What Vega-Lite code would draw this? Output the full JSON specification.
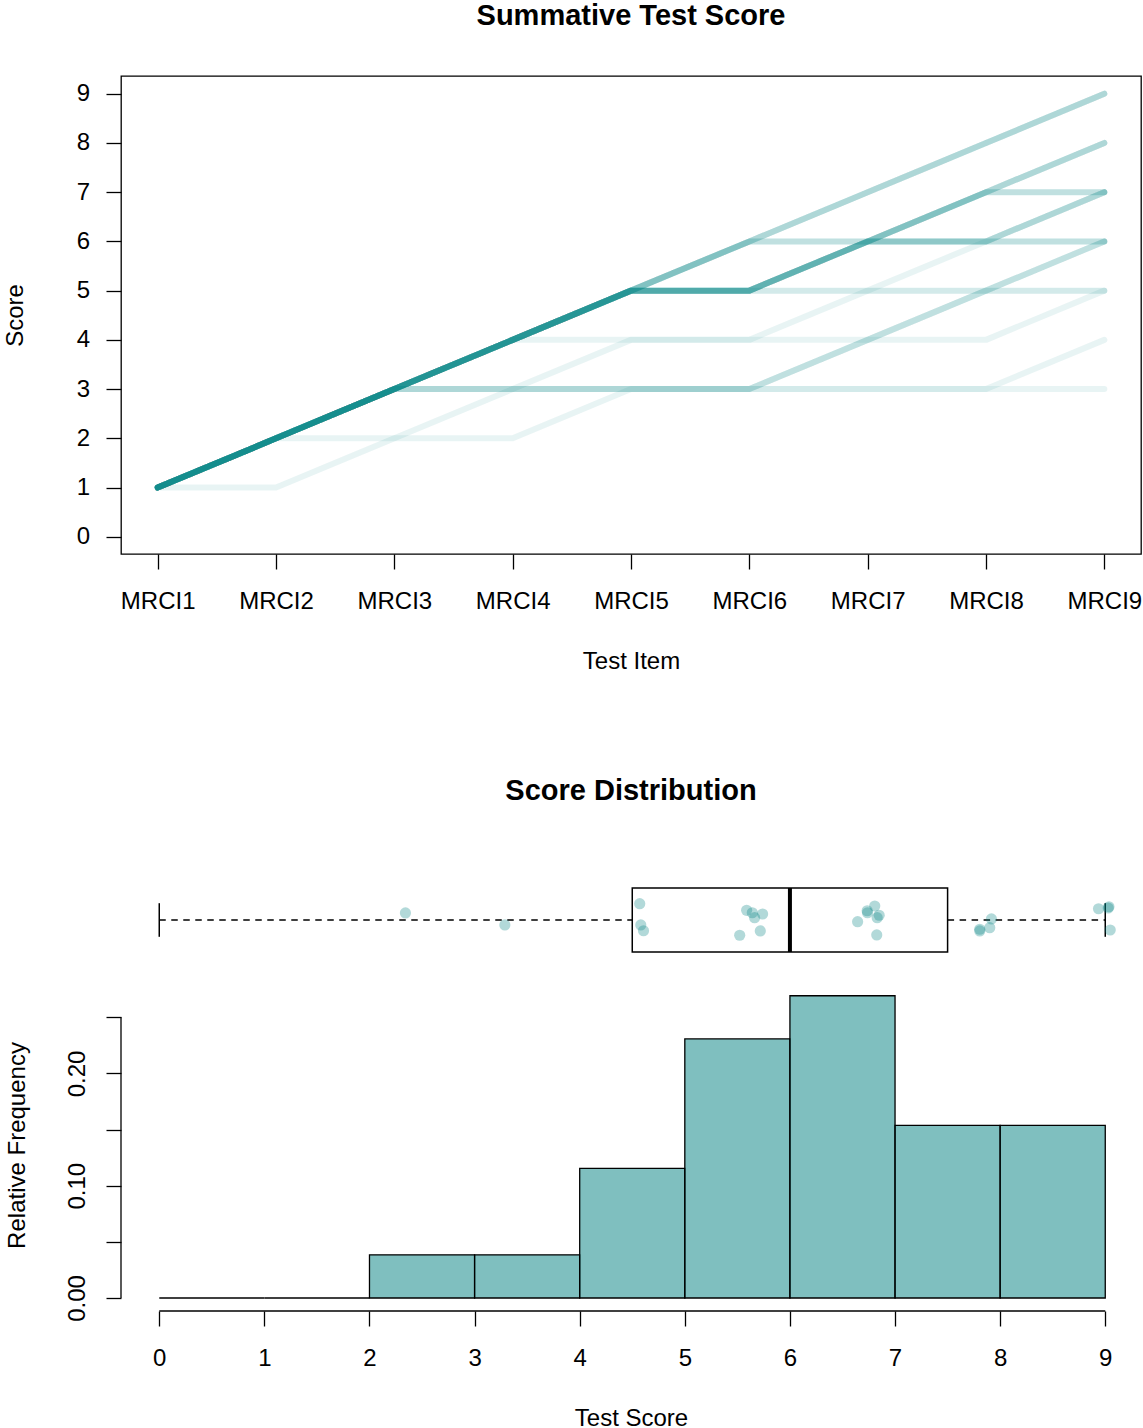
{
  "$schema": "https://vega.github.io/schema/vega-lite/v6.json",
  "padding": {"left": 2, "top": 0, "right": 0, "bottom": 0},
  "config": {
    "font": "Liberation Sans",
    "view": {"stroke": null},
    "axis": {"grid": false, "labelFont": "Liberation Sans", "titleFont": "Liberation Sans", "labelFontSize": 24, "titleFontSize": 24, "titleFontWeight": "normal", "labelColor": "black", "titleColor": "black", "tickColor": "black", "domainColor": "black", "tickWidth": 1.3, "domainWidth": 1.3, "tickSize": 15, "labelOverlap": false, "labelFlush": false},
    "title": {"font": "Liberation Sans", "fontSize": 29, "fontWeight": "bold", "color": "black", "anchor": "middle", "frame": "group", "baseline": "alphabetic"}
  },
  "bounds": "flush",
  "spacing": 323,
  "vconcat": [
    {
      "title": {"text": "Summative Test Score", "offset": 45.4},
      "width": 1020,
      "height": 478,
      "view": {"stroke": "black", "strokeWidth": 1.3},
      "data": {"values": [
        {"id": "R01", "MRCI1": 1, "MRCI2": 2, "MRCI3": 3, "MRCI4": 4, "MRCI5": 5, "MRCI6": 6, "MRCI7": 7, "MRCI8": 8, "MRCI9": 9},
        {"id": "R02", "MRCI1": 1, "MRCI2": 2, "MRCI3": 3, "MRCI4": 4, "MRCI5": 5, "MRCI6": 6, "MRCI7": 7, "MRCI8": 8, "MRCI9": 9},
        {"id": "R03", "MRCI1": 1, "MRCI2": 2, "MRCI3": 3, "MRCI4": 4, "MRCI5": 5, "MRCI6": 6, "MRCI7": 7, "MRCI8": 8, "MRCI9": 9},
        {"id": "R04", "MRCI1": 1, "MRCI2": 2, "MRCI3": 3, "MRCI4": 4, "MRCI5": 5, "MRCI6": 6, "MRCI7": 7, "MRCI8": 8, "MRCI9": 9},
        {"id": "R05", "MRCI1": 1, "MRCI2": 2, "MRCI3": 3, "MRCI4": 4, "MRCI5": 5, "MRCI6": 6, "MRCI7": 6, "MRCI8": 6, "MRCI9": 6},
        {"id": "R06", "MRCI1": 1, "MRCI2": 2, "MRCI3": 3, "MRCI4": 4, "MRCI5": 5, "MRCI6": 6, "MRCI7": 6, "MRCI8": 6, "MRCI9": 6},
        {"id": "R07", "MRCI1": 1, "MRCI2": 2, "MRCI3": 3, "MRCI4": 4, "MRCI5": 5, "MRCI6": 6, "MRCI7": 6, "MRCI8": 6, "MRCI9": 6},
        {"id": "R08", "MRCI1": 1, "MRCI2": 2, "MRCI3": 3, "MRCI4": 4, "MRCI5": 5, "MRCI6": 5, "MRCI7": 6, "MRCI8": 7, "MRCI9": 8},
        {"id": "R09", "MRCI1": 1, "MRCI2": 2, "MRCI3": 3, "MRCI4": 4, "MRCI5": 5, "MRCI6": 5, "MRCI7": 6, "MRCI8": 7, "MRCI9": 8},
        {"id": "R10", "MRCI1": 1, "MRCI2": 2, "MRCI3": 3, "MRCI4": 4, "MRCI5": 5, "MRCI6": 5, "MRCI7": 6, "MRCI8": 7, "MRCI9": 8},
        {"id": "R11", "MRCI1": 1, "MRCI2": 2, "MRCI3": 3, "MRCI4": 4, "MRCI5": 5, "MRCI6": 5, "MRCI7": 6, "MRCI8": 7, "MRCI9": 8},
        {"id": "R12", "MRCI1": 1, "MRCI2": 2, "MRCI3": 3, "MRCI4": 4, "MRCI5": 5, "MRCI6": 5, "MRCI7": 6, "MRCI8": 7, "MRCI9": 7},
        {"id": "R13", "MRCI1": 1, "MRCI2": 2, "MRCI3": 3, "MRCI4": 4, "MRCI5": 5, "MRCI6": 5, "MRCI7": 6, "MRCI8": 7, "MRCI9": 7},
        {"id": "R14", "MRCI1": 1, "MRCI2": 2, "MRCI3": 3, "MRCI4": 4, "MRCI5": 5, "MRCI6": 5, "MRCI7": 6, "MRCI8": 7, "MRCI9": 7},
        {"id": "R15", "MRCI1": 1, "MRCI2": 2, "MRCI3": 3, "MRCI4": 4, "MRCI5": 5, "MRCI6": 5, "MRCI7": 6, "MRCI8": 6, "MRCI9": 7},
        {"id": "R16", "MRCI1": 1, "MRCI2": 2, "MRCI3": 3, "MRCI4": 4, "MRCI5": 5, "MRCI6": 5, "MRCI7": 6, "MRCI8": 6, "MRCI9": 7},
        {"id": "R17", "MRCI1": 1, "MRCI2": 2, "MRCI3": 3, "MRCI4": 4, "MRCI5": 5, "MRCI6": 5, "MRCI7": 6, "MRCI8": 6, "MRCI9": 7},
        {"id": "R18", "MRCI1": 1, "MRCI2": 2, "MRCI3": 3, "MRCI4": 4, "MRCI5": 5, "MRCI6": 5, "MRCI7": 5, "MRCI8": 5, "MRCI9": 5},
        {"id": "R19", "MRCI1": 1, "MRCI2": 2, "MRCI3": 3, "MRCI4": 4, "MRCI5": 5, "MRCI6": 5, "MRCI7": 5, "MRCI8": 5, "MRCI9": 5},
        {"id": "R20", "MRCI1": 1, "MRCI2": 1, "MRCI3": 2, "MRCI4": 3, "MRCI5": 4, "MRCI6": 4, "MRCI7": 5, "MRCI8": 6, "MRCI9": 7},
        {"id": "R21", "MRCI1": 1, "MRCI2": 2, "MRCI3": 3, "MRCI4": 4, "MRCI5": 4, "MRCI6": 4, "MRCI7": 4, "MRCI8": 4, "MRCI9": 5},
        {"id": "R22", "MRCI1": 1, "MRCI2": 2, "MRCI3": 3, "MRCI4": 3, "MRCI5": 3, "MRCI6": 3, "MRCI7": 4, "MRCI8": 5, "MRCI9": 6},
        {"id": "R23", "MRCI1": 1, "MRCI2": 2, "MRCI3": 3, "MRCI4": 3, "MRCI5": 3, "MRCI6": 3, "MRCI7": 4, "MRCI8": 5, "MRCI9": 6},
        {"id": "R24", "MRCI1": 1, "MRCI2": 2, "MRCI3": 3, "MRCI4": 3, "MRCI5": 3, "MRCI6": 3, "MRCI7": 4, "MRCI8": 5, "MRCI9": 6},
        {"id": "R25", "MRCI1": 1, "MRCI2": 2, "MRCI3": 3, "MRCI4": 3, "MRCI5": 3, "MRCI6": 3, "MRCI7": 3, "MRCI8": 3, "MRCI9": 3},
        {"id": "R26", "MRCI1": 1, "MRCI2": 2, "MRCI3": 2, "MRCI4": 2, "MRCI5": 3, "MRCI6": 3, "MRCI7": 3, "MRCI8": 3, "MRCI9": 4}
      ]},
      "transform": [{"fold": ["MRCI1", "MRCI2", "MRCI3", "MRCI4", "MRCI5", "MRCI6", "MRCI7", "MRCI8", "MRCI9"], "as": ["item", "score"]}],
      "mark": {"type": "line", "color": "#008080", "opacity": 0.09, "strokeWidth": 6, "strokeCap": "round", "strokeJoin": "round"},
      "encoding": {
        "x": {"field": "item", "type": "ordinal",
              "scale": {"type": "point", "domain": ["MRCI1", "MRCI2", "MRCI3", "MRCI4", "MRCI5", "MRCI6", "MRCI7", "MRCI8", "MRCI9"], "padding": 0.31},
              "axis": {"title": "Test Item", "labelAngle": 0, "domain": false, "labelPadding": 39, "labelBaseline": "alphabetic", "titleY": 114, "titleBaseline": "alphabetic"}},
        "y": {"field": "score", "type": "quantitative",
              "scale": {"domain": [-0.35, 9.36], "nice": false, "zero": false},
              "axis": {"title": "Score", "values": [0, 1, 2, 3, 4, 5, 6, 7, 8, 9], "domain": false, "labelPadding": 16.5, "titleX": -98.4, "titleBaseline": "alphabetic"}},
        "detail": {"field": "id"}
      }
    },
    {
      "title": {"text": "Score Distribution", "offset": 71},
      "width": 1020,
      "height": 421,
      "resolve": {"scale": {"y": "independent"}},
      "layer": [
        {
          "layer": [
            {
              "data": {"values": [
                {"bin_start": 0, "bin_end": 1, "freq": 0},
                {"bin_start": 1, "bin_end": 2, "freq": 0},
                {"bin_start": 2, "bin_end": 3, "freq": 0.03846},
                {"bin_start": 3, "bin_end": 4, "freq": 0.03846},
                {"bin_start": 4, "bin_end": 5, "freq": 0.11538},
                {"bin_start": 5, "bin_end": 6, "freq": 0.23077},
                {"bin_start": 6, "bin_end": 7, "freq": 0.26923},
                {"bin_start": 7, "bin_end": 8, "freq": 0.15385},
                {"bin_start": 8, "bin_end": 9, "freq": 0.15385}
              ]},
              "mark": {"type": "rect", "fill": "#008080", "fillOpacity": 0.5, "stroke": "black", "strokeWidth": 1.3},
              "encoding": {
                "x": {"field": "bin_start", "type": "quantitative", "title": "Test Score",
                      "scale": {"domain": [-0.364, 9.34], "nice": false, "zero": false},
                      "axis": {"title": "Test Score", "values": [0, 1, 2, 3, 4, 5, 6, 7, 8, 9], "format": ".0f", "domain": false, "offset": 13, "labelAngle": 0, "labelPadding": 39.6, "labelBaseline": "alphabetic", "titleY": 114.5, "titleBaseline": "alphabetic"}},
                "x2": {"field": "bin_end"},
                "y": {"field": "freq", "type": "quantitative",
                      "scale": {"domain": [0, 0.375], "nice": false, "zero": false},
                      "axis": {"title": "Relative Frequency", "values": [0, 0.05, 0.1, 0.15, 0.2, 0.25], "domain": false,
                               "labelExpr": "datum.value < 0.001 ? '0.00' : (abs(datum.value - 0.1) < 0.001 ? '0.10' : (abs(datum.value - 0.2) < 0.001 ? '0.20' : ''))",
                               "labelAngle": 270, "labelAlign": "center", "labelBaseline": "alphabetic", "labelPadding": 22,
                               "titleX": -96.4, "titleY": 268, "titleBaseline": "alphabetic"}},
                "y2": {"datum": 0}
              }
            },
            {
              "data": {"values": [{}]},
              "mark": {"type": "rule", "color": "black", "strokeWidth": 1.3},
              "encoding": {
                "x": {"datum": -0.364, "type": "quantitative"},
                "y": {"datum": 0, "type": "quantitative"},
                "y2": {"datum": 0.25}
              }
            },
            {
              "data": {"values": [{}]},
              "mark": {"type": "rule", "color": "black", "strokeWidth": 1.3},
              "encoding": {
                "x": {"datum": 0, "type": "quantitative"},
                "x2": {"datum": 9},
                "y": {"datum": -0.01158, "type": "quantitative"}
              }
            }
          ]
        },
        {
          "layer": [
            {
              "data": {"values": [{"lo": 0, "q1": 4.5, "med": 6, "q3": 7.5, "hi": 9}]},
              "layer": [
                {
                  "mark": {"type": "rule", "color": "black", "strokeWidth": 1.3, "strokeDash": [6.5, 5.5]},
                  "encoding": {
                    "x": {"field": "lo", "type": "quantitative", "title": "Test Score"},
                    "x2": {"field": "q1"},
                    "y": {"datum": 1, "type": "quantitative", "axis": null}
                  }
                },
                {
                  "mark": {"type": "rule", "color": "black", "strokeWidth": 1.3, "strokeDash": [6.5, 5.5]},
                  "encoding": {
                    "x": {"field": "q3", "type": "quantitative", "title": "Test Score"},
                    "x2": {"field": "hi"},
                    "y": {"datum": 1, "type": "quantitative", "axis": null}
                  }
                },
                {
                  "mark": {"type": "rule", "color": "black", "strokeWidth": 1.5},
                  "encoding": {
                    "x": {"field": "lo", "type": "quantitative", "title": "Test Score"},
                    "y": {"datum": 0.79, "type": "quantitative", "axis": null},
                    "y2": {"datum": 1.21}
                  }
                },
                {
                  "mark": {"type": "rule", "color": "black", "strokeWidth": 1.5},
                  "encoding": {
                    "x": {"field": "hi", "type": "quantitative", "title": "Test Score"},
                    "y": {"datum": 0.79, "type": "quantitative", "axis": null},
                    "y2": {"datum": 1.21}
                  }
                },
                {
                  "mark": {"type": "rect", "fill": "white", "fillOpacity": 0, "stroke": "black", "strokeWidth": 1.5},
                  "encoding": {
                    "x": {"field": "q1", "type": "quantitative", "title": "Test Score"},
                    "x2": {"field": "q3"},
                    "y": {"datum": 0.6, "type": "quantitative", "axis": null},
                    "y2": {"datum": 1.4}
                  }
                },
                {
                  "mark": {"type": "rule", "color": "black", "strokeWidth": 4},
                  "encoding": {
                    "x": {"field": "med", "type": "quantitative", "title": "Test Score"},
                    "y": {"datum": 0.6, "type": "quantitative", "axis": null},
                    "y2": {"datum": 1.4}
                  }
                }
              ]
            },
            {
              "data": {"values": [
                {"jx": 2.342, "jy": 1.088}, {"jx": 3.288, "jy": 0.938},
                {"jx": 4.571, "jy": 1.204}, {"jx": 4.581, "jy": 0.938}, {"jx": 4.607, "jy": 0.866},
                {"jx": 5.588, "jy": 1.121}, {"jx": 5.642, "jy": 1.091}, {"jx": 5.664, "jy": 1.029},
                {"jx": 5.740, "jy": 1.075}, {"jx": 5.522, "jy": 0.809}, {"jx": 5.718, "jy": 0.863},
                {"jx": 6.807, "jy": 1.175}, {"jx": 6.735, "jy": 1.116}, {"jx": 6.738, "jy": 1.091},
                {"jx": 6.849, "jy": 1.059}, {"jx": 6.830, "jy": 1.029}, {"jx": 6.644, "jy": 0.979},
                {"jx": 6.826, "jy": 0.813},
                {"jx": 7.917, "jy": 1.013}, {"jx": 7.901, "jy": 0.904}, {"jx": 7.806, "jy": 0.863}, {"jx": 7.806, "jy": 0.884},
                {"jx": 8.936, "jy": 1.141}, {"jx": 9.035, "jy": 1.166}, {"jx": 9.028, "jy": 1.150}, {"jx": 9.047, "jy": 0.875}
              ]},
              "mark": {"type": "circle", "color": "#008080", "opacity": 0.3, "size": 125},
              "encoding": {
                "x": {"field": "jx", "type": "quantitative", "title": "Test Score"},
                "y": {"field": "jy", "type": "quantitative", "axis": null,
                      "scale": {"domain": [-3.725, 1.5375], "nice": false, "zero": false}}
              }
            }
          ]
        }
      ]
    }
  ]
}
